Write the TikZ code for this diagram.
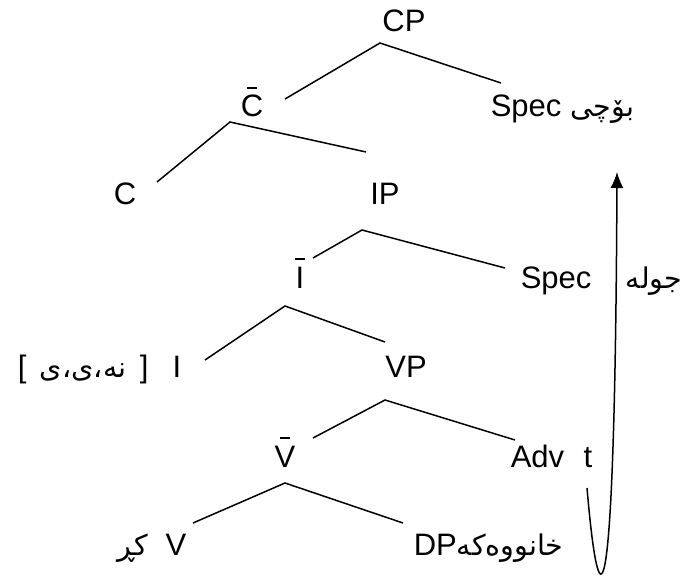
\documentclass[tikz,border=0pt]{standalone}
\usepackage{fontspec}
\setmainfont{Liberation Sans}
\newfontfamily\arabicfont[Script=Arabic,Scale=0.92]{DejaVu Sans}
\TeXXeTstate=1
\usetikzlibrary{arrows.meta}
\newcommand{\kurd}[1]{{\arabicfont\beginR #1\endR}}
\newcommand{\barred}[1]{\leavevmode\setbox0\hbox{#1}\rlap{\hbox to\wd0{\hss\rule[0.9em]{0.35em}{0.07em}\hss}}\box0}

\begin{document}
\begin{tikzpicture}[x=0.5pt,y=-0.5pt,line width=0.75pt,
  lbl/.style={inner sep=0pt,anchor=base,font=\fontsize{15.5}{18}\selectfont},
  lblw/.style={lbl,anchor=base west},
  lble/.style={lbl,anchor=base east}]
  \useasboundingbox (0,0) rectangle (683,577);

  % labels of the tree
  \node[lbl]  (CP)    at (404,32)  {CP};
  \node[lbl]  (Cbar)  at (252,117) {\barred{C}};
  \node[lblw] (specq) at (490,117) {Spec \kurd{بۆچی}};
  \node[lbl]  (C)     at (125,204) {C};
  \node[lbl]  (IP)    at (385,204) {IP};
  \node[lbl]  (Ibar)  at (300,288) {\barred{I}};
  \node[lblw] (spec)  at (520,288) {Spec};
  \node[lblw] (move)  at (625,288) {\kurd{جوله}};
  \node[lblw] (infl)  at (17,377)  {[\hspace{2.5pt} \kurd{نه،ی،ی} \hspace{2.5pt}]};
  \node[lbl]  (I)     at (177,377) {I};
  \node[lbl]  (VP)    at (406,377) {VP};
  \node[lbl]  (Vbar)  at (285,467) {\barred{V}};
  \node[lblw] (adv)   at (510,467) {Adv};
  \node[lbl]  (trace) at (588,467) {t};
  \node[lble] (V)     at (187,555) {\kurd{کڕ}\ \ V};
  \node[lblw] (DP)    at (413,555) {DP\kurd{خانووەکە}};

  % forks and branch ends
  \coordinate (cp-fork)   at (380,43);
  \coordinate (cbar-top)  at (285,99);
  \coordinate (specq-top) at (501,83);
  \coordinate (cbar-fork) at (230,122);
  \coordinate (c-top)     at (157,182);
  \coordinate (ip-top)    at (366,152);
  \coordinate (ip-fork)   at (362,230);
  \coordinate (ibar-top)  at (313,258);
  \coordinate (spec-top)  at (505,268);
  \coordinate (ibar-fork) at (285,306);
  \coordinate (i-top)     at (205,360);
  \coordinate (vp-top)    at (385,342);
  \coordinate (vp-fork)   at (385,400);
  \coordinate (vbar-top)  at (313,438);
  \coordinate (adv-top)   at (515,440);
  \coordinate (vbar-fork) at (285,483);
  \coordinate (v-top)     at (193,523);
  \coordinate (dp-top)    at (403,523);

  \draw (cbar-top) -- (cp-fork) -- (specq-top);
  \draw (c-top) -- (cbar-fork) -- (ip-top);
  \draw (ibar-top) -- (ip-fork) -- (spec-top);
  \draw (i-top) -- (ibar-fork) -- (vp-top);
  \draw (vbar-top) -- (vp-fork) -- (adv-top);
  \draw (v-top) -- (vbar-fork) -- (dp-top);

  % movement
  \coordinate (trace-out) at (587,488);
  \coordinate (land)      at (617,172);
  \draw[-{Latex[length=8pt,width=6.5pt]}] (trace-out) .. controls (600,640) and (615,620) .. (land);
\end{tikzpicture}
\end{document}
